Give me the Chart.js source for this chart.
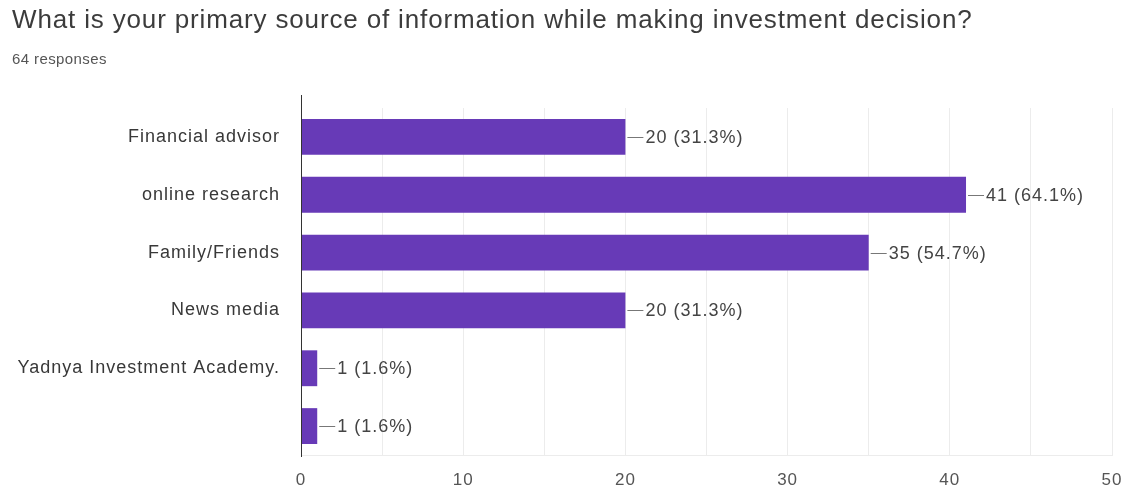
<!DOCTYPE html>
<html>
<head>
<meta charset="utf-8">
<script src="https://cdn.jsdelivr.net/npm/chart.js@4.4.1/dist/chart.umd.min.js"></script>
<style>
  html, body { margin: 0; padding: 0; background: #fff; }
  #wrap { position: relative; width: 1124px; height: 491px; }
  #titulo { position: absolute; left: 12px; top: 4px; font: 26px "Liberation Sans", Arial, sans-serif; letter-spacing: 0.85px; color: #3c3c3c; white-space: nowrap; }
  #respuestas { position: absolute; left: 12px; top: 50px; font: 15px "Liberation Sans", Arial, sans-serif; letter-spacing: 0.4px; color: #555; }
</style>
</head>
<body>
<div id="wrap">
  <div id="titulo">What is your primary source of information while making investment decision?</div>
  <div id="respuestas">64 responses</div>
  <canvas id="myChart" width="1124" height="491"></canvas>
</div>
<script>
const totalRespuestas = 64;
const categorias = ['Financial advisor', 'online research', 'Family/Friends', 'News media', 'Yadnya Investment Academy.', ''];
const valores = [20, 41, 35, 20, 1, 1];
const ticksX = [0, 10, 20, 30, 40, 50];

const fuente = '"Liberation Sans", Arial, sans-serif';

// un poco de espacio entre letras para todo el texto del canvas
const espaciado = {
  id: 'espaciado',
  beforeDraw(chart) { chart.ctx.letterSpacing = '1px'; },
  afterDraw(chart) { chart.ctx.letterSpacing = '0px'; }
};

// etiqueta "n (x%)" con una rayita que sale del final de cada barra
const etiquetasBarras = {
  id: 'etiquetasBarras',
  afterDatasetsDraw(chart) {
    const { ctx } = chart;
    const meta = chart.getDatasetMeta(0);
    ctx.save();
    ctx.font = '18px ' + fuente;
    ctx.fillStyle = '#444';
    ctx.strokeStyle = '#777';
    ctx.lineWidth = 1;
    ctx.textBaseline = 'middle';
    meta.data.forEach((barra, i) => {
      const v = valores[i];
      const pct = (v / totalRespuestas * 100).toFixed(1);
      const x = barra.x;
      const y = Math.round(barra.y) + 0.5;
      ctx.beginPath();
      ctx.moveTo(x + 2, y);
      ctx.lineTo(x + 18, y);
      ctx.stroke();
      ctx.fillText(v + ' (' + pct + '%)', x + 20, y + 1);
    });
    ctx.restore();
  }
};

// la linea del cero sobresale un poco por arriba del area
const lineaCero = {
  id: 'lineaCero',
  afterDraw(chart) {
    const { ctx, chartArea, scales: { x } } = chart;
    const px = Math.round(x.getPixelForValue(0)) + 0.5;
    ctx.save();
    ctx.strokeStyle = '#333';
    ctx.lineWidth = 1;
    ctx.beginPath();
    ctx.moveTo(px, chartArea.top - 13);
    ctx.lineTo(px, chartArea.bottom + 2);
    ctx.stroke();
    ctx.restore();
  }
};

new Chart(document.getElementById('myChart'), {
  type: 'bar',
  data: {
    labels: categorias,
    datasets: [{
      data: valores,
      backgroundColor: '#673ab7',
      borderWidth: 0,
      categoryPercentage: 1,
      barPercentage: 0.62
    }]
  },
  options: {
    indexAxis: 'y',
    responsive: false,
    animation: false,
    layout: { padding: { left: 10, right: 12, top: 108, bottom: 0 } },
    plugins: {
      legend: { display: false },
      tooltip: { enabled: false }
    },
    scales: {
      x: {
        min: 0,
        max: 50,
        afterBuildTicks(axis) {
          const t = [];
          for (let v = 0; v <= 50; v += 5) t.push({ value: v });
          axis.ticks = t;
        },
        grid: {
          color: '#ececec',
          drawTicks: false
        },
        border: { display: true, color: '#ececec' },
        ticks: {
          padding: 15,
          color: '#555',
          font: { family: fuente, size: 17 },
          autoSkip: false,
          maxRotation: 0,
          callback: (v) => ticksX.includes(v) ? String(v) : ''
        },
        afterFit(axis) {
          axis.height = 36;
          axis.paddingLeft = 0;
          axis.paddingRight = 0;
        }
      },
      y: {
        grid: { display: false },
        border: { display: false },
        ticks: {
          padding: 13,
          color: '#383838',
          font: { family: fuente, size: 18 }
        },
        afterFit(axis) { axis.width = 291; }
      }
    }
  },
  plugins: [espaciado, etiquetasBarras, lineaCero]
});
</script>
</body>
</html>
